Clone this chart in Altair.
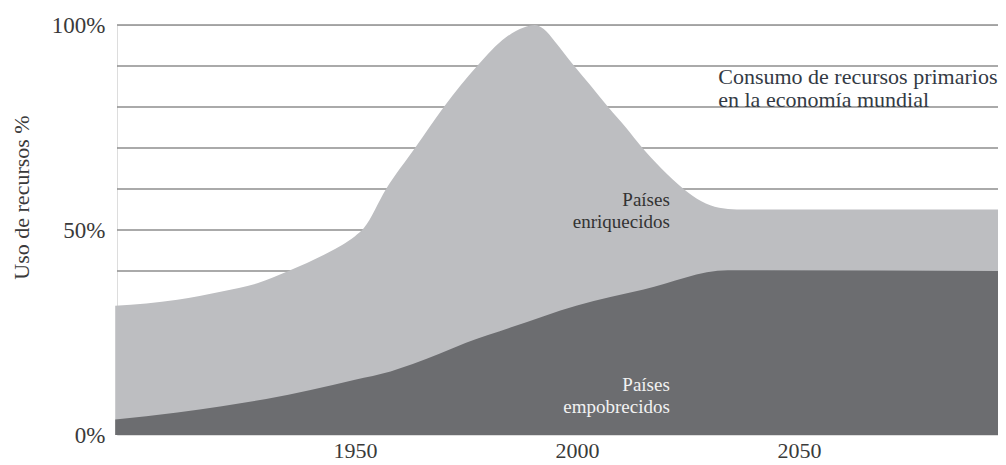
import altair as alt
import pandas as pd

# Total resource use (upper envelope, light grey = rich + poor)
years_total = [1896, 1910, 1920, 1928, 1935, 1944, 1947, 1950, 1952, 1957, 1963.5, 1970, 1977.5,
               1984, 1988, 1990.5, 1992.5, 1995, 1999, 2003, 2007, 2011, 2014.5, 2019, 2024,
               2028, 2032, 2036, 2096]
total = [31.5, 33, 35, 37, 40, 44.5, 46.3, 48.5, 50.5, 60, 70, 80, 90,
         97, 99.4, 100, 99, 96, 90.5, 85.3, 80, 75, 70.3, 65, 60,
         57, 55.4, 55, 55]

# Poor countries' share (dark grey)
years_poor = [1896, 1910, 1920, 1930, 1940, 1950, 1958, 1963, 1969, 1975, 1985, 2000, 2015, 2034, 2040, 2096]
poor = [3.8, 5.5, 7, 8.8, 11, 13.5, 15.5, 17.3, 19.8, 22.5, 26.2, 31.6, 35.5, 40.2, 40.2, 40]

grid_vals = [10, 20, 30, 40, 50, 60, 70, 80, 90, 100]
y_ticks = [0, 50, 100]
x_ticks = [1950, 2000, 2050]

title_lines = ["Consumo de recursos primarios", "en la economía mundial"]
rich_lines = ["Países", "enriquecidos"]
poor_lines = ["Países", "empobrecidos"]

df_total = pd.DataFrame({"year": years_total, "val": total})
df_poor = pd.DataFrame({"year": years_poor, "val": poor})
df_grid = pd.DataFrame({"g": grid_vals})

FONT = "Liberation Serif"
W, H = 881, 410

xs = alt.Scale(domain=[1896.4, 2094.8], nice=False, zero=False)
ys = alt.Scale(domain=[0, 100], nice=False)

grid = alt.Chart(df_grid).mark_rule(color="#8e8e8e", strokeWidth=1.3).encode(
    y=alt.Y("g:Q", scale=ys,
            axis=alt.Axis(values=y_ticks, labelExpr="datum.value + '%'", grid=False,
                          domain=False, ticks=False, labelPadding=12, labelFontSize=23,
                          labelFont=FONT, labelColor="#3a3a3a",
                          title="Uso de recursos %", titleFont=FONT, titleFontSize=22,
                          titleFontWeight="normal", titleColor="#3a3a3a",
                          titleX=-84, titleY=172)),
    x=alt.value(0),
    x2=alt.value(W),
)

area_total = alt.Chart(df_total).mark_area(color="#bdbec1", interpolate="monotone").encode(
    x=alt.X("year:Q", scale=xs,
            axis=alt.Axis(values=x_ticks, format="d", grid=False, domain=False, ticks=False,
                          labelPadding=5, labelFontSize=22, labelFont=FONT,
                          labelColor="#3a3a3a", title=None)),
    y=alt.Y("val:Q", scale=ys),
)

area_poor = alt.Chart(df_poor).mark_area(color="#6c6d70", interpolate="monotone").encode(
    x=alt.X("year:Q", scale=xs),
    y=alt.Y("val:Q", scale=ys),
)

df_title = pd.DataFrame({"year": [2031.8, 2031.8], "val": [87.3, 81.7], "t": title_lines})
df_rich = pd.DataFrame({"year": [2020.9, 2020.9], "val": [57.3, 52.0], "t": rich_lines})
df_poorlbl = pd.DataFrame({"year": [2020.9, 2020.9], "val": [12.2, 6.8], "t": poor_lines})

txt_title = alt.Chart(df_title).mark_text(align="left", baseline="middle", font=FONT,
                                          fontSize=22, color="#333a44").encode(
    x=alt.X("year:Q", scale=xs), y=alt.Y("val:Q", scale=ys), text="t:N")
txt_rich = alt.Chart(df_rich).mark_text(align="right", baseline="middle", font=FONT,
                                        fontSize=19, color="#333333").encode(
    x=alt.X("year:Q", scale=xs), y=alt.Y("val:Q", scale=ys), text="t:N")
txt_poor = alt.Chart(df_poorlbl).mark_text(align="right", baseline="middle", font=FONT,
                                           fontSize=19, color="#f2f2f2").encode(
    x=alt.X("year:Q", scale=xs), y=alt.Y("val:Q", scale=ys), text="t:N")

chart = alt.layer(grid, area_total, area_poor, txt_title, txt_rich, txt_poor).properties(
    width=W, height=H,
    autosize=alt.AutoSizeParams(type="none"),
    padding={"left": 109, "top": 17, "right": 0, "bottom": 30},
).configure_view(stroke=None).configure(background="white")

chart.save("out.html", embed_options={"renderer": "svg", "actions": False})
